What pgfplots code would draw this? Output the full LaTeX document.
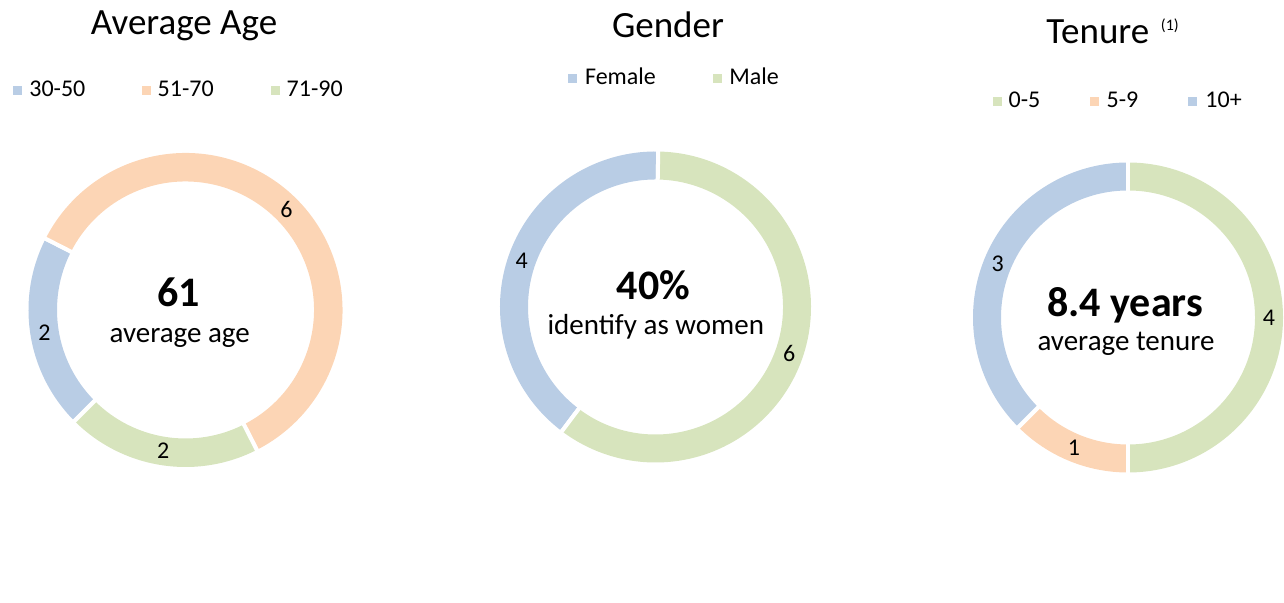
\documentclass[border=0pt]{standalone}
\usepackage{pgfplots}
\pgfplotsset{compat=1.18}
\usepackage{pgfplotstable}
\usepackage{fontspec}
\setmainfont{Carlito}
\definecolor{cblue}{RGB}{185,205,229}
\definecolor{corange}{RGB}{252,213,181}
\definecolor{cgreen}{RGB}{215,228,189}
\newcommand\fs[1]{\fontsize{#1}{#1}\selectfont}

\pgfplotstableread{
label value color
30-50 2 cblue
51-70 6 corange
71-90 2 cgreen
}\ageTable
\pgfplotstableread{
label value color
Female 4 cblue
Male 6 cgreen
}\genderTable
\pgfplotstableread{
label value color
0-5 4 cgreen
5-9 1 corange
10+ 3 cblue
}\tenureTable

% #1 table, #2 cx, #3 cy, #4 Rout, #5 Rin, #6 start angle (clockwise)
\newcommand{\donut}[6]{%
  \pgfmathsetmacro\Ro{#4*0.5}%
  \pgfmathsetmacro\Ri{#5*0.5}%
  \pgfmathsetmacro\Rm{(#4+#5)*0.25}%
  \pgfmathsetmacro\Rsa{\Ri-1.5}%
  \pgfmathsetmacro\Rsb{\Ro+1.5}%
  \pgfplotstablegetrowsof{#1}%
  \pgfmathtruncatemacro\nlast{\pgfplotsretval-1}%
  \gdef\total{0}%
  \pgfplotsforeachungrouped \r in {0,...,\nlast}{%
    \pgfplotstablegetelem{\r}{value}\of#1%
    \pgfmathsetmacro\tmp{\total+\pgfplotsretval}%
    \xdef\total{\tmp}%
  }%
  \xdef\curang{#6}%
  \begin{scope}[shift={(axis cs:#2,#3)}]
  \pgfplotsforeachungrouped \r in {0,...,\nlast}{%
    \pgfplotstablegetelem{\r}{value}\of#1%
    \let\val\pgfplotsretval
    \pgfplotstablegetelem{\r}{color}\of#1%
    \let\col\pgfplotsretval
    \pgfmathsetmacro\aone{\curang}%
    \pgfmathsetmacro\atwo{\curang-360*\val/\total}%
    \pgfmathsetmacro\amid{(\aone+\atwo)/2}%
    \fill[fill=\col] (\aone:\Ro pt) arc[start angle=\aone, end angle=\atwo, radius=\Ro pt]
      -- (\atwo:\Ri pt) arc[start angle=\atwo, end angle=\aone, radius=\Ri pt] -- cycle;
    \draw[white, line width=2pt] (\aone:\Rsa pt) -- (\aone:\Rsb pt);
    \draw[white, line width=2pt] (\atwo:\Rsa pt) -- (\atwo:\Rsb pt);
    \node[font=\fs{12}, inner sep=0pt] at (\amid:\Rm pt) {\val};
    \xdef\curang{\atwo}%
  }%
  \end{scope}%
}

\begin{document}
\begin{tikzpicture}
\begin{axis}[x=0.5pt, y=0.5pt, xmin=0, xmax=1284, ymin=0, ymax=603,
  hide axis, clip=false, scale only axis]
\path (axis cs:0,0) rectangle (axis cs:1284,603);

\pgfplotsextra{\donut{\ageTable}{185.5}{293}{157}{128.5}{225}}
\pgfplotsextra{\donut{\genderTable}{655.5}{296}{155.5}{127.5}{233}}
\pgfplotsextra{\donut{\tenureTable}{1128}{285.5}{155}{127}{90}}

% titles
\node[anchor=base, inner sep=0pt, font=\fs{18.5}] at (axis cs:184,568) {Average Age};
\node[anchor=base, inner sep=0pt, font=\fs{18.5}] at (axis cs:668,565.7) {Gender};
\node[anchor=base west, inner sep=0pt, font=\fs{18.5}] at (axis cs:1046,559.7) {Tenure};
\node[anchor=base west, inner sep=0pt, font=\fs{8}] at (axis cs:1160.5,572) {(1)};

% legend 1
\fill[cblue] (axis cs:12.7,508.3) rectangle (axis cs:21.7,517.3);
\fill[corange] (axis cs:141.7,508.3) rectangle (axis cs:150.7,517.3);
\fill[cgreen] (axis cs:270.7,508.3) rectangle (axis cs:279.7,517.3);
\node[anchor=base west, inner sep=0pt, font=\fs{12}] at (axis cs:29,506.3) {30-50};
\node[anchor=base west, inner sep=0pt, font=\fs{12}] at (axis cs:157.3,506.3) {51-70};
\node[anchor=base west, inner sep=0pt, font=\fs{12}] at (axis cs:286.3,506.3) {71-90};

% legend 2
\fill[cblue] (axis cs:568.3,520.2) rectangle (axis cs:577.3,529.2);
\fill[cgreen] (axis cs:712.7,520.2) rectangle (axis cs:721.7,529.2);
\node[anchor=base west, inner sep=0pt, font=\fs{12}] at (axis cs:584.7,518) {Female};
\node[anchor=base west, inner sep=0pt, font=\fs{12}] at (axis cs:729,518) {Male};

% legend 3
\fill[cgreen] (axis cs:993.3,497.3) rectangle (axis cs:1002.3,506.3);
\fill[corange] (axis cs:1090,497.3) rectangle (axis cs:1099,506.3);
\fill[cblue] (axis cs:1188.3,497.3) rectangle (axis cs:1197.3,506.3);
\node[anchor=base west, inner sep=0pt, font=\fs{12}] at (axis cs:1008.3,495.7) {0-5};
\node[anchor=base west, inner sep=0pt, font=\fs{12}] at (axis cs:1106.3,495.7) {5-9};
\node[anchor=base west, inner sep=0pt, font=\fs{12}] at (axis cs:1205,495.7) {10+};

% centre texts
\node[anchor=base, inner sep=0pt, font=\fs{21}\bfseries] at (axis cs:178.8,296.3) {61};
\node[anchor=base, inner sep=0pt, font=\fs{14.5}] at (axis cs:179.7,260.3) {average age};
\node[anchor=base, inner sep=0pt, font=\fs{21}\bfseries] at (axis cs:653.3,303) {40\%};
\node[anchor=base, inner sep=0pt, font=\fs{14.5}] at (axis cs:655.8,268.7) {identify as women};
\node[anchor=base, inner sep=0pt, font=\fs{21}\bfseries] at (axis cs:1125,286.3) {8.4 years};
\node[anchor=base, inner sep=0pt, font=\fs{14.5}] at (axis cs:1126,252) {average tenure};
\end{axis}
\end{tikzpicture}
\end{document}
